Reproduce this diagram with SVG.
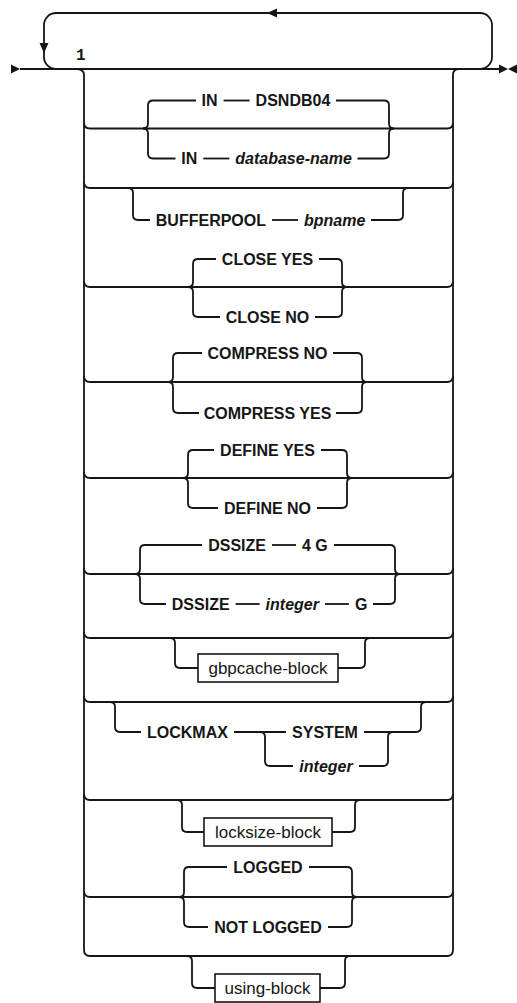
<svg xmlns="http://www.w3.org/2000/svg" width="517" height="1003" viewBox="0 0 517 1003">
<style>
.c{fill:none;stroke:#161616;stroke-width:1.8}
.a{fill:#161616;stroke:none}
.kw{font-family:"Liberation Sans",Arial,sans-serif;font-weight:bold;font-size:16px;fill:#161616}
.var{font-family:"Liberation Sans",Arial,sans-serif;font-weight:bold;font-style:italic;font-size:16px;fill:#161616}
.ref{font-family:"Liberation Sans",Arial,sans-serif;font-size:17px;fill:#161616}
.num{font-family:"Liberation Mono","Courier New",monospace;font-weight:bold;font-size:16px;fill:#161616}
.box{fill:#ffffff;stroke:#161616;stroke-width:1.6}
</style>
<rect width="517" height="1003" fill="#ffffff"/>
<g id="connectors">
<polygon class="a" points="11,64.5 20,69 11,73.5"/>
<path class="c" d="M20,69 H500"/>
<polygon class="a" points="499,64.5 508,69 499,73.5"/>
<polygon class="a" points="517,64.5 508,69 517,73.5"/>
<path class="c" d="M56,69 A12,12 0 0 1 44,57 V25 A12,12 0 0 1 56,13 H480 A12,12 0 0 1 492,25 V57 A12,12 0 0 1 480,69"/>
<polygon class="a" points="39.5,43 48.5,43 44,53"/>
<polygon class="a" points="267,13 277,8.5 277,17.5"/>
<path class="c" d="M76,69 Q84,69 84,75 V950"/>
<path class="c" d="M459,69 Q453,69 453,75 V950"/>
<path class="c" d="M84,122.5 Q84,128.5 90,128.5 H447 Q453,128.5 453,122.5"/>
<path class="c" d="M84,182 Q84,188 90,188 H447 Q453,188 453,182"/>
<path class="c" d="M84,281 Q84,287 90,287 H447 Q453,287 453,281"/>
<path class="c" d="M84,376 Q84,382 90,382 H447 Q453,382 453,376"/>
<path class="c" d="M84,472 Q84,478 90,478 H447 Q453,478 453,472"/>
<path class="c" d="M84,568 Q84,574 90,574 H447 Q453,574 453,568"/>
<path class="c" d="M84,632 Q84,638 90,638 H447 Q453,638 453,632"/>
<path class="c" d="M84,696 Q84,702 90,702 H447 Q453,702 453,696"/>
<path class="c" d="M84,794 Q84,800 90,800 H447 Q453,800 453,794"/>
<path class="c" d="M84,891 Q84,897 90,897 H447 Q453,897 453,891"/>
<path class="c" d="M84,950 Q84,956 90,956 H447 Q453,956 453,950"/>

<path class="c" d="M143,128.5 Q148,128.5 148,123.5 V105.5 Q148,100.5 153,100.5 H196"/>
<path class="c" d="M143,128.5 Q148,128.5 148,133.5 V153.5 Q148,158.5 153,158.5 H175.5"/>
<path class="c" d="M223.6,100.5 H249.6"/>
<path class="c" d="M336,100.5 H384 Q389,100.5 389,105.5 V123.5 Q389,128.5 394,128.5"/>
<path class="c" d="M203.3,158.5 H229.3"/>
<path class="c" d="M357.5,158.5 H384 Q389,158.5 389,153.5 V133.5 Q389,128.5 394,128.5"/>

<path class="c" d="M128,188 Q133,188 133,193 V215 Q133,220 138,220 H150"/>
<path class="c" d="M272,220 H298"/>
<path class="c" d="M371,220 H398 Q403,220 403,215 V193 Q403,188 408,188"/>

<path class="c" d="M188,287 Q193,287 193,282 V264 Q193,259 198,259 H216"/>
<path class="c" d="M188,287 Q193,287 193,292 V312 Q193,317 198,317 H220"/>
<path class="c" d="M319,259 H337 Q342,259 342,264 V282 Q342,287 347,287"/>
<path class="c" d="M315,317 H337 Q342,317 342,312 V292 Q342,287 347,287"/>

<path class="c" d="M168,382 Q173,382 173,377 V358 Q173,353 178,353 H202"/>
<path class="c" d="M168,382 Q173,382 173,387 V408 Q173,413 178,413 H199"/>
<path class="c" d="M333,353 H357 Q362,353 362,358 V377 Q362,382 367,382"/>
<path class="c" d="M336,413 H357 Q362,413 362,408 V387 Q362,382 367,382"/>

<path class="c" d="M183,478 Q188,478 188,473 V455 Q188,450 193,450 H214"/>
<path class="c" d="M183,478 Q188,478 188,483 V503 Q188,508 193,508 H218"/>
<path class="c" d="M321,450 H342 Q347,450 347,455 V473 Q347,478 352,478"/>
<path class="c" d="M317,508 H342 Q347,508 347,503 V483 Q347,478 352,478"/>

<path class="c" d="M135,574 Q140,574 140,569 V550 Q140,545 145,545 H202"/>
<path class="c" d="M135,574 Q140,574 140,579 V599 Q140,604 145,604 H166"/>
<path class="c" d="M272,545 H296"/>
<path class="c" d="M334,545 H390 Q395,545 395,550 V569 Q395,574 400,574"/>
<path class="c" d="M235.6,604 H259.6"/>
<path class="c" d="M324.9,604 H348.9"/>
<path class="c" d="M373,604 H390 Q395,604 395,599 V579 Q395,574 400,574"/>

<path class="c" d="M170,638 Q175,638 175,643 V663 Q175,668 180,668 H198"/>
<path class="c" d="M338,668 H360 Q365,668 365,663 V643 Q365,638 370,638"/>

<path class="c" d="M110,702 Q115,702 115,707 V727 Q115,732 120,732 H141"/>
<path class="c" d="M234,732 H286"/>
<path class="c" d="M364,732 H416 Q421,732 421,727 V707 Q421,702 426,702"/>
<path class="c" d="M260,732 Q265,732 265,737 V761 Q265,766 270,766 H293"/>
<path class="c" d="M359,766 H383 Q388,766 388,761 V737 Q388,732 393,732"/>

<path class="c" d="M177,800 Q182,800 182,805 V827 Q182,832 187,832 H204"/>
<path class="c" d="M332,832 H350 Q355,832 355,827 V805 Q355,800 360,800"/>

<path class="c" d="M179,897 Q184,897 184,892 V872 Q184,867 189,867 H227"/>
<path class="c" d="M179,897 Q184,897 184,902 V922 Q184,927 189,927 H208"/>
<path class="c" d="M309,867 H347 Q352,867 352,872 V892 Q352,897 357,897"/>
<path class="c" d="M328,927 H347 Q352,927 352,922 V902 Q352,897 357,897"/>

<path class="c" d="M187,956 Q192,956 192,961 V983 Q192,988 197,988 H215"/>
<path class="c" d="M320,988 H340 Q345,988 345,983 V961 Q345,956 350,956"/>
</g>

<g id="note-1"><text class="num" x="76" y="60">1</text></g>

<g id="node-in-dsndb04">
<text class="kw" x="201.6" y="106.2">IN</text>
<text class="kw" x="255.6" y="106.2">DSNDB04</text>
</g>
<g id="node-in-database-name">
<text class="kw" x="181.3" y="164.2">IN</text>
<text class="var" x="235.3" y="164.2">database-name</text>
</g>
<g id="node-bufferpool">
<text class="kw" x="155.8" y="225.7">BUFFERPOOL</text>
<text class="var" x="304" y="225.7">bpname</text>
</g>
<g id="node-close-yes"><text class="kw" x="267.5" y="264.7" text-anchor="middle">CLOSE YES</text></g>
<g id="node-close-no"><text class="kw" x="267.5" y="322.7" text-anchor="middle">CLOSE NO</text></g>
<g id="node-compress-no"><text class="kw" x="267.5" y="358.7" text-anchor="middle">COMPRESS NO</text></g>
<g id="node-compress-yes"><text class="kw" x="267.5" y="418.7" text-anchor="middle">COMPRESS YES</text></g>
<g id="node-define-yes"><text class="kw" x="267.5" y="455.7" text-anchor="middle">DEFINE YES</text></g>
<g id="node-define-no"><text class="kw" x="267.5" y="513.7" text-anchor="middle">DEFINE NO</text></g>
<g id="node-dssize-4g">
<text class="kw" x="208.2" y="550.7">DSSIZE</text>
<text class="kw" x="302" y="550.7">4 G</text>
</g>
<g id="node-dssize-integer">
<text class="kw" x="171.8" y="609.7">DSSIZE</text>
<text class="var" x="265.6" y="609.7">integer</text>
<text class="kw" x="354.9" y="609.7">G</text>
</g>
<g id="node-gbpcache-block">
<rect class="box" x="198" y="654" width="140" height="28"/>
<text class="ref" x="268" y="673.5" text-anchor="middle">gbpcache-block</text>
</g>
<g id="node-lockmax">
<text class="kw" x="147" y="737.7">LOCKMAX</text>
</g>
<g id="node-system"><text class="kw" x="325" y="737.7" text-anchor="middle">SYSTEM</text></g>
<g id="node-integer"><text class="var" x="326" y="771.7" text-anchor="middle">integer</text></g>
<g id="node-locksize-block">
<rect class="box" x="204" y="818" width="128" height="28"/>
<text class="ref" x="268" y="837.5" text-anchor="middle">locksize-block</text>
</g>
<g id="node-logged"><text class="kw" x="268" y="872.7" text-anchor="middle">LOGGED</text></g>
<g id="node-not-logged"><text class="kw" x="268" y="932.7" text-anchor="middle">NOT LOGGED</text></g>
<g id="node-using-block">
<rect class="box" x="215" y="974" width="105" height="28"/>
<text class="ref" x="267.5" y="993.5" text-anchor="middle">using-block</text>
</g>
</svg>
